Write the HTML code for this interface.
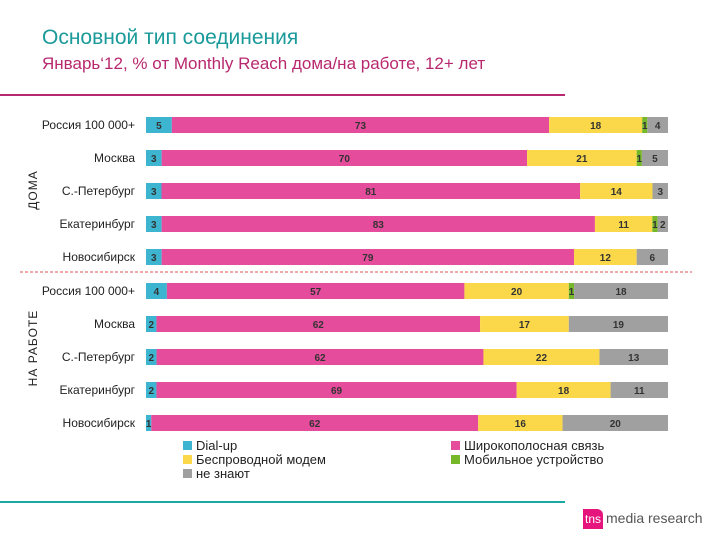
<!DOCTYPE html>
<html><head><meta charset="utf-8">
<style>
body{margin:0;width:720px;height:540px;background:#fff;overflow:hidden;font-family:"Liberation Sans","DejaVu Sans",sans-serif;position:relative}
.abs{position:absolute}
</style></head>
<body>
<div class="abs" style="left:42px;top:26px;font-size:21px;color:#1a9a9a">Основной тип соединения</div>
<div class="abs" style="left:42px;top:54px;font-size:17px;color:#b8286e">Январь‘12, % от Monthly Reach дома/на работе, 12+ лет</div>
<div class="abs" style="left:0;top:94px;width:565px;height:2px;background:#b8286e"></div>
<div class="abs" style="left:0;top:501px;width:565px;height:2px;background:#1aa8a0"></div>
<div class="abs" style="left:583px;top:509px;width:20px;height:20px;background:#e6157e;color:#fff;font-size:12px;line-height:20px;text-align:center;border-radius:0 6px 0 0">tns</div>
<div class="abs" style="left:606px;top:510px;font-size:14px;color:#555">media research</div>
<svg id="chart" class="abs" style="left:0;top:0" width="720" height="540"></svg>
<script>
const categories=["Россия 100 000+","Москва","С.-Петербург","Екатеринбург","Новосибирск","Россия 100 000+","Москва","С.-Петербург","Екатеринбург","Новосибирск"];
const dialup=[5,3,3,3,3,4,2,2,2,1];
const broadband=[73,70,81,83,79,57,62,62,69,62];
const wireless=[18,21,14,11,12,20,17,22,18,16];
const mobile=[1,1,0,1,0,1,0,0,0,0];
const unknown=[4,5,3,2,6,18,19,13,11,20];
const seriesNames=["Dial-up","Широкополосная связь","Беспроводной модем","Мобильное устройство","не знают"];
const series=[dialup,broadband,wireless,mobile,unknown];
const colors=["#3db4d0","#e54c9c","#fbd84a","#76b82a","#a0a0a0"];
const NS="http://www.w3.org/2000/svg";
const svg=document.getElementById('chart');
const x0=146,barW=522,barH=16;
function yPos(i){return 117+i*33+(i>=5?1:0);}
function xScale(v,total){return v/total*barW;}
function mk(tag,a){const e=document.createElementNS(NS,tag);for(const k in a)e.setAttribute(k,a[k]);svg.appendChild(e);return e;}
categories.forEach((c,i)=>{
  const y=yPos(i);
  const t=mk('text',{x:135,y:y+12,'text-anchor':'end','font-size':12,fill:'#222'});
  t.textContent=c;
  
  
  const total=series.reduce((s,a)=>s+a[i],0);
  let x=x0;
  series.forEach((arr,k)=>{
    const v=arr[i];if(!v)return;
    const w=xScale(v,total);
    const r=mk('rect',{x:x,y:y,width:w,height:barH,fill:colors[k]});
    
    
    const l=mk('text',{x:x+w/2,y:y+12,'text-anchor':'middle','font-size':10,'font-weight':'bold',fill:'#333'});
    l.textContent=v;
    
    
    x+=w;
  });
});
const d=mk('line',{x1:20,y1:272,x2:692,y2:272,stroke:'#e05050','stroke-dasharray':'3,2','stroke-width':1});


const g1=mk('text',{x:0,y:0,transform:'translate(37,190) rotate(-90)','text-anchor':'middle','font-size':12,fill:'#222','letter-spacing':'1'});
g1.textContent='ДОМА';


const g2=mk('text',{x:0,y:0,transform:'translate(37,348) rotate(-90)','text-anchor':'middle','font-size':12,fill:'#222','letter-spacing':'1'});
g2.textContent='НА РАБОТЕ';


const lpos=[[183,449],[451,449],[183,463],[451,463],[183,477]];
const order=[0,1,2,3,4];
order.forEach((k,j)=>{
  const [lx,ly]=lpos[j];
  const r=mk('rect',{x:lx,y:ly-8,width:9,height:9,fill:colors[k]});
  
  
  const t=mk('text',{x:lx+13,y:ly+1,'font-size':13,fill:'#222'});
  t.textContent=seriesNames[k];
  
  
});
</script>
</body></html>
